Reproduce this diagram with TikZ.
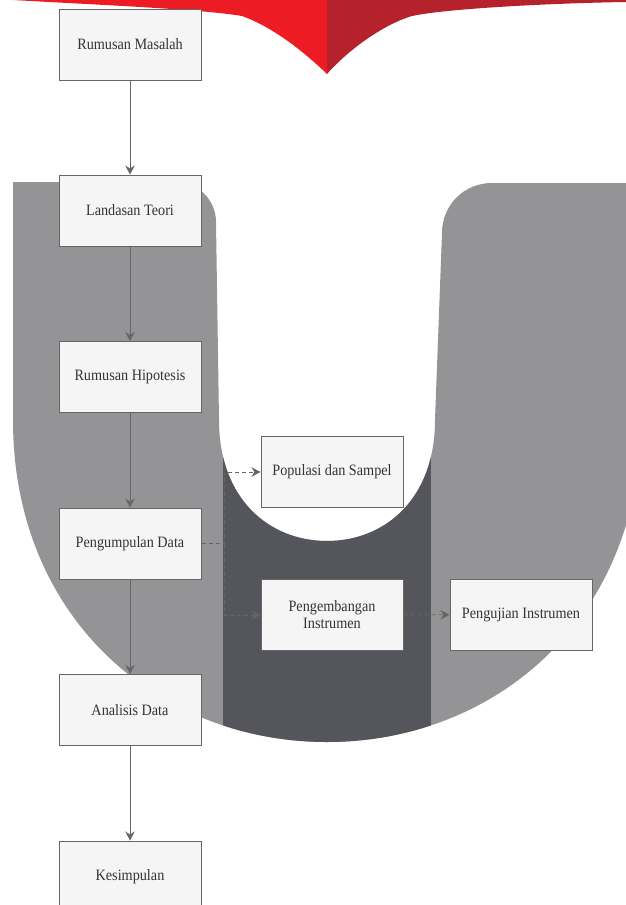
\documentclass[tikz,border=0pt]{standalone}
\usepackage{fontspec}
\setmainfont{Liberation Serif}[FakeStretch=0.9]
\usetikzlibrary{arrows.meta}
\definecolor{boxfill}{HTML}{F5F5F5}
\definecolor{boxline}{HTML}{666666}
\definecolor{boxtext}{HTML}{333333}
\definecolor{ugray}{HTML}{949496}
\definecolor{uband}{HTML}{55565B}
\definecolor{redlight}{HTML}{ED1C24}
\definecolor{reddark}{HTML}{B5222B}
% outline of the U behind the boxes
\def\uoutline{(13,182) -- (176,182) .. controls (198,182) and (216,200) .. (216,222)
  -- (219,420) .. controls (219,500) and (270,541) .. (327,541)
  .. controls (384,541) and (435,500) .. (435,420)
  -- (442,233) .. controls (442,205) and (464,183) .. (492,183)
  -- (641,183) -- (641,420) .. controls (641,620) and (494,742) .. (327,742)
  .. controls (160,742) and (13,620) .. (13,420) -- cycle}

\begin{document}
\begin{tikzpicture}[x=1pt,y=-1pt,
  box/.style={draw=boxline, line width=1pt, fill=boxfill, text=boxtext,
    minimum width=142pt, minimum height=71pt, inner sep=2pt, align=center,
    font=\fontsize{15.8}{17}\selectfont},
  flow/.style={draw=boxline, line width=0.9pt,
    -{Stealth[length=9pt,width=9.5pt,inset=3pt]}},
  dashflow/.style={flow, dash pattern=on 4pt off 3pt}]
  \useasboundingbox (0,0) rectangle (626,905);
  % red shape at the top
  \fill[redlight] (13,0) .. controls (100,5) and (200,9) .. (242,16)
       .. controls (270,26) and (300,48) .. (327,74) -- (327,0) -- cycle;
  \fill[reddark] (327,74) .. controls (350,48) and (385,24) .. (412,16)
       .. controls (450,8) and (560,3) .. (626,2) -- (626,0) -- (327,0) -- cycle;
  % the U
  \fill[ugray] \uoutline;
  \begin{scope}
    \clip \uoutline;
    \fill[uband] (223,455) rectangle (431,760);
  \end{scope}

  \node[box] (rm) at (130,44.5) {Rumusan Masalah};
  \node[box] (lt) at (130,210.5) {Landasan Teori};
  \node[box] (rh) at (130,377) {Rumusan Hipotesis};
  \node[box] (pd) at (130,543.5) {Pengumpulan Data};
  \node[box] (ad) at (130,710) {Analisis Data};
  \node[box] (ks) at (130,876.5) {Kesimpulan};
  \node[box] (ps) at (332,472) {Populasi dan Sampel};
  \node[box] (pi) at (332,615) {Pengembangan\\Instrumen};
  \node[box] (ui) at (521,614.5) {Pengujian Instrumen};
  \coordinate (j) at (224,543.5);

  \draw[flow] (rm) -- (lt);
  \draw[flow] (lt) -- (rh);
  \draw[flow] (rh) -- (pd);
  \draw[flow] (pd) -- (ad);
  \draw[flow] (ad) -- (ks);
  \draw[dashflow] (pd) -- (j) |- (ps);
  \draw[dashflow] (j) |- (pi);
  \draw[dashflow] (pi) -- (ui);
\end{tikzpicture}
\end{document}
